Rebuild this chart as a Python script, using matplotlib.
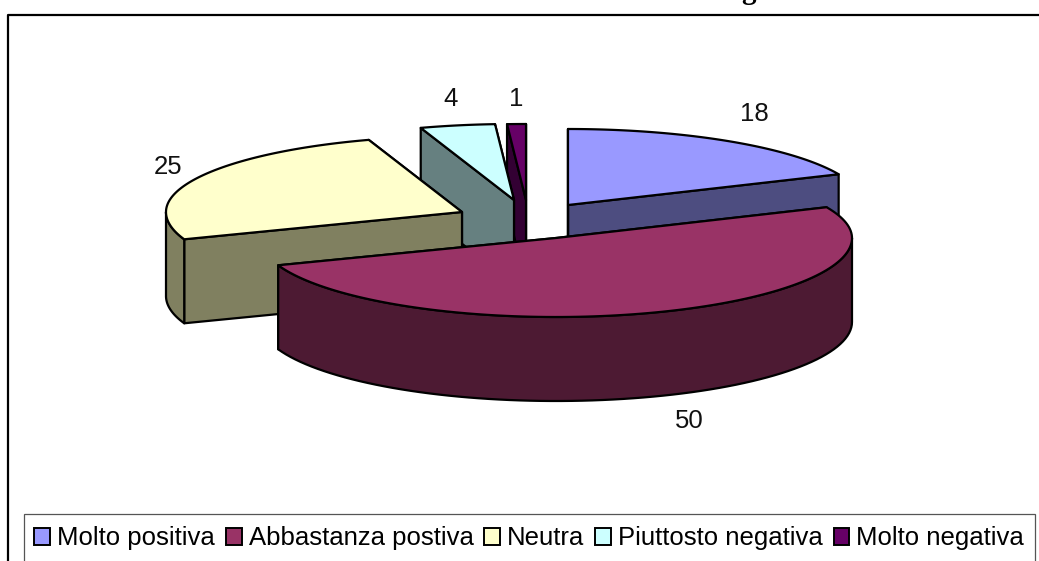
import numpy as np
import matplotlib
matplotlib.use('Agg')
import matplotlib.pyplot as plt
from matplotlib.patches import Patch, Polygon, Rectangle

# Data
categories = ['Molto positiva', 'Abbastanza postiva', 'Neutra', 'Piuttosto negativa', 'Molto negativa']
values = [18, 50, 25, 4, 1]

# Colours for the top faces and the darker side walls
top_colors = ['#9999FF', '#993366', '#FFFFCC', '#CCFFFF', '#660066']
wall_colors = ['#4D4D80', '#4D1A33', '#808060', '#668080', '#330033']

# Pie layout in pixels: apex of each exploded slice, ellipse radii, thickness
centers = [(568, 205), (556, 238), (462, 212), (514, 200), (526, 200)]
radius_x = 296
radius_back = 76
radius_front = 79
depth = 84
label_pos = [(754, 114), (689, 421), (168, 167), (451, 99), (516, 99)]
draw_order = [0, 4, 3, 2, 1]

plt.rcParams['font.family'] = ['Liberation Sans', 'DejaVu Sans']

fig = plt.figure(figsize=(10.39, 5.61), dpi=100)
ax = fig.add_axes([0, 0, 1, 1])
ax.set_xlim(0, 1039)
ax.set_ylim(561, 0)
ax.axis('off')

# Angles run clockwise from the top of the pie
edges = np.concatenate([[0], np.cumsum(values)]) / sum(values) * 360


def rim(center, deg):
    deg = np.asarray(deg, dtype=float)
    rad = np.radians(deg)
    b = np.where(np.cos(rad) > 0, radius_back, radius_front)
    return np.column_stack([center[0] + radius_x * np.sin(rad), center[1] - b * np.cos(rad)])


def face(points, color, z):
    ax.add_patch(Polygon(points, closed=True, facecolor=color, edgecolor='black',
                         linewidth=1.6, joinstyle='round', zorder=z))


def down(points):
    return points + np.array([0, depth])


z = 2
for i in draw_order:
    c = centers[i]
    start, end = edges[i], edges[i + 1]
    apex = np.array([c], dtype=float)

    # Straight walls along both radii
    for a in (end, start):
        edge = np.vstack([apex, rim(c, [a])])
        face(np.vstack([edge, down(edge)[::-1]]), wall_colors[i], z)
        z += 1

    # Curved wall, only the part facing the viewer
    lo, hi = max(start, 90), min(end, 270)
    if lo < hi:
        arc = rim(c, np.linspace(lo, hi, 80))
        face(np.vstack([arc, down(arc)[::-1]]), wall_colors[i], z)
        z += 1

    # Top of the slice
    face(np.vstack([apex, rim(c, np.linspace(start, end, 120))]), top_colors[i], z)
    z += 1

# Data labels
for v, (x, y) in zip(values, label_pos):
    ax.text(x, y, str(v), fontsize=18.5, ha='center', va='center', color='#111111', zorder=z)

# Chart frame, open at the right and bottom
ax.plot([8, 8, 1039], [561, 15, 15], color='black', linewidth=1.6, zorder=1)

# End of the cropped title
ax.text(756, -1, 'g', fontsize=21, fontweight='bold', family='Liberation Serif',
        ha='right', va='baseline', color='black')

# Legend box runs past the bottom of the picture
ax.add_patch(Rectangle((24, 514), 1011, 60, facecolor='white', edgecolor='#555555',
                       linewidth=0.9, zorder=z))

handles = [Patch(facecolor=col, edgecolor='black', linewidth=1.4) for col in top_colors]
leg = ax.legend(handles, categories, ncol=5, loc='upper left',
                bbox_to_anchor=(24, 516), bbox_transform=ax.transData,
                fontsize=18.5, frameon=False, borderaxespad=0, borderpad=0.4,
                handlelength=0.62, handleheight=0.62, handletextpad=0.27,
                columnspacing=0.42, labelspacing=0)
leg.set_zorder(z + 1)

fig.savefig('out.png', dpi=100)
